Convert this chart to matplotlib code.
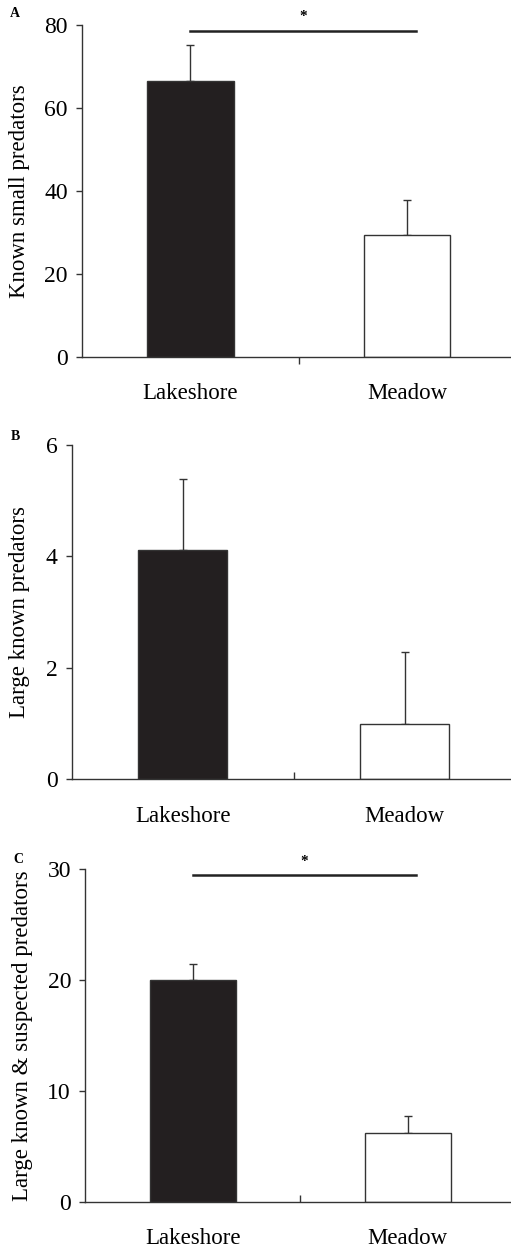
import numpy as np
import matplotlib
matplotlib.use("Agg")
import matplotlib.pyplot as plt

plt.rcParams['font.family'] = ['Liberation Serif', 'DejaVu Serif']

sites = ['Lakeshore', 'Meadow']
panel_letters = ['A', 'B', 'C']
ylabels = ['Known small predators', 'Large known predators',
           'Large known & suspected predators']
means_a = [66.6, 29.5]
err_a = [8.5, 8.4]
means_b = [4.12, 0.99]
err_b = [1.27, 1.29]
means_c = [20.0, 6.22]
err_c = [1.5, 1.53]
yticks_a = [0, 20, 40, 60, 80]
yticks_b = [0, 2, 4, 6]
yticks_c = [0, 10, 20, 30]
significant = [True, False, True]

bar_colors = ['#231f20', 'white']
line_col = '#333333'

fig = plt.figure(figsize=(5.11, 12.53), dpi=100)

# axes boxes in figure fractions (left, bottom, width, height)
boxes = [
    (0.1605, 0.7151, 0.8395, 0.2650),
    (0.1403, 0.3780, 0.8597, 0.2669),
    (0.1670, 0.0407, 0.8330, 0.2655),
]
label_x = [-0.121, -0.095, -0.123]
mid_tick_dir = ['out', 'in', 'in']
letter_pos = [(0.02, 0.989), (0.022, 0.652), (0.027, 0.314)]

panels = [
    (means_a, err_a, yticks_a),
    (means_b, err_b, yticks_b),
    (means_c, err_c, yticks_c),
]

for i, (means, errs, yticks) in enumerate(panels):
    ax = fig.add_axes(boxes[i])
    x = np.arange(len(sites))
    ax.bar(x, means, width=0.40, color=bar_colors, edgecolor=line_col,
           linewidth=1.0, zorder=2)
    ax.errorbar(x, means, yerr=[np.zeros(len(errs)), errs], fmt='none',
                ecolor=line_col, elinewidth=1.0, capsize=3, capthick=1.0,
                zorder=1)
    ymax = yticks[-1]
    ax.set_ylim(0, ymax)
    ax.set_xlim(-0.5, 1.48)
    ax.set_yticks(yticks)
    ax.tick_params(axis='y', direction='out', length=4.3, width=1.0,
                   color=line_col, labelsize=17, pad=6)

    # category tick between bars, labels centered on bars
    ax.set_xticks([0.5])
    ax.set_xticklabels([''])
    ax.tick_params(axis='x', which='major', direction=mid_tick_dir[i],
                   length=5, width=1.0, color=line_col)
    ax.set_xticks(x, minor=True)
    ax.set_xticklabels(sites, minor=True)
    ax.tick_params(axis='x', which='minor', length=0, labelsize=16.5, pad=19)

    for s in ['top', 'right']:
        ax.spines[s].set_visible(False)
    for s in ['left', 'bottom']:
        ax.spines[s].set_color(line_col)
        ax.spines[s].set_linewidth(1.0)

    ax.set_ylabel(ylabels[i], fontsize=16.5)
    ax.yaxis.set_label_coords(label_x[i], 0.5)

    if significant[i]:
        ybar = ymax * 0.982
        ax.plot([0, 1.04], [ybar, ybar], color='#222222', linewidth=1.8,
                clip_on=False)
        ax.text(0.52, ymax * 1.025, '*', ha='center', va='center',
                fontsize=11, fontweight='bold', clip_on=False)

    fig.text(letter_pos[i][0], letter_pos[i][1], panel_letters[i],
             fontsize=10, fontweight='bold', ha='left', va='center')

fig.savefig('out.png', dpi=100)
